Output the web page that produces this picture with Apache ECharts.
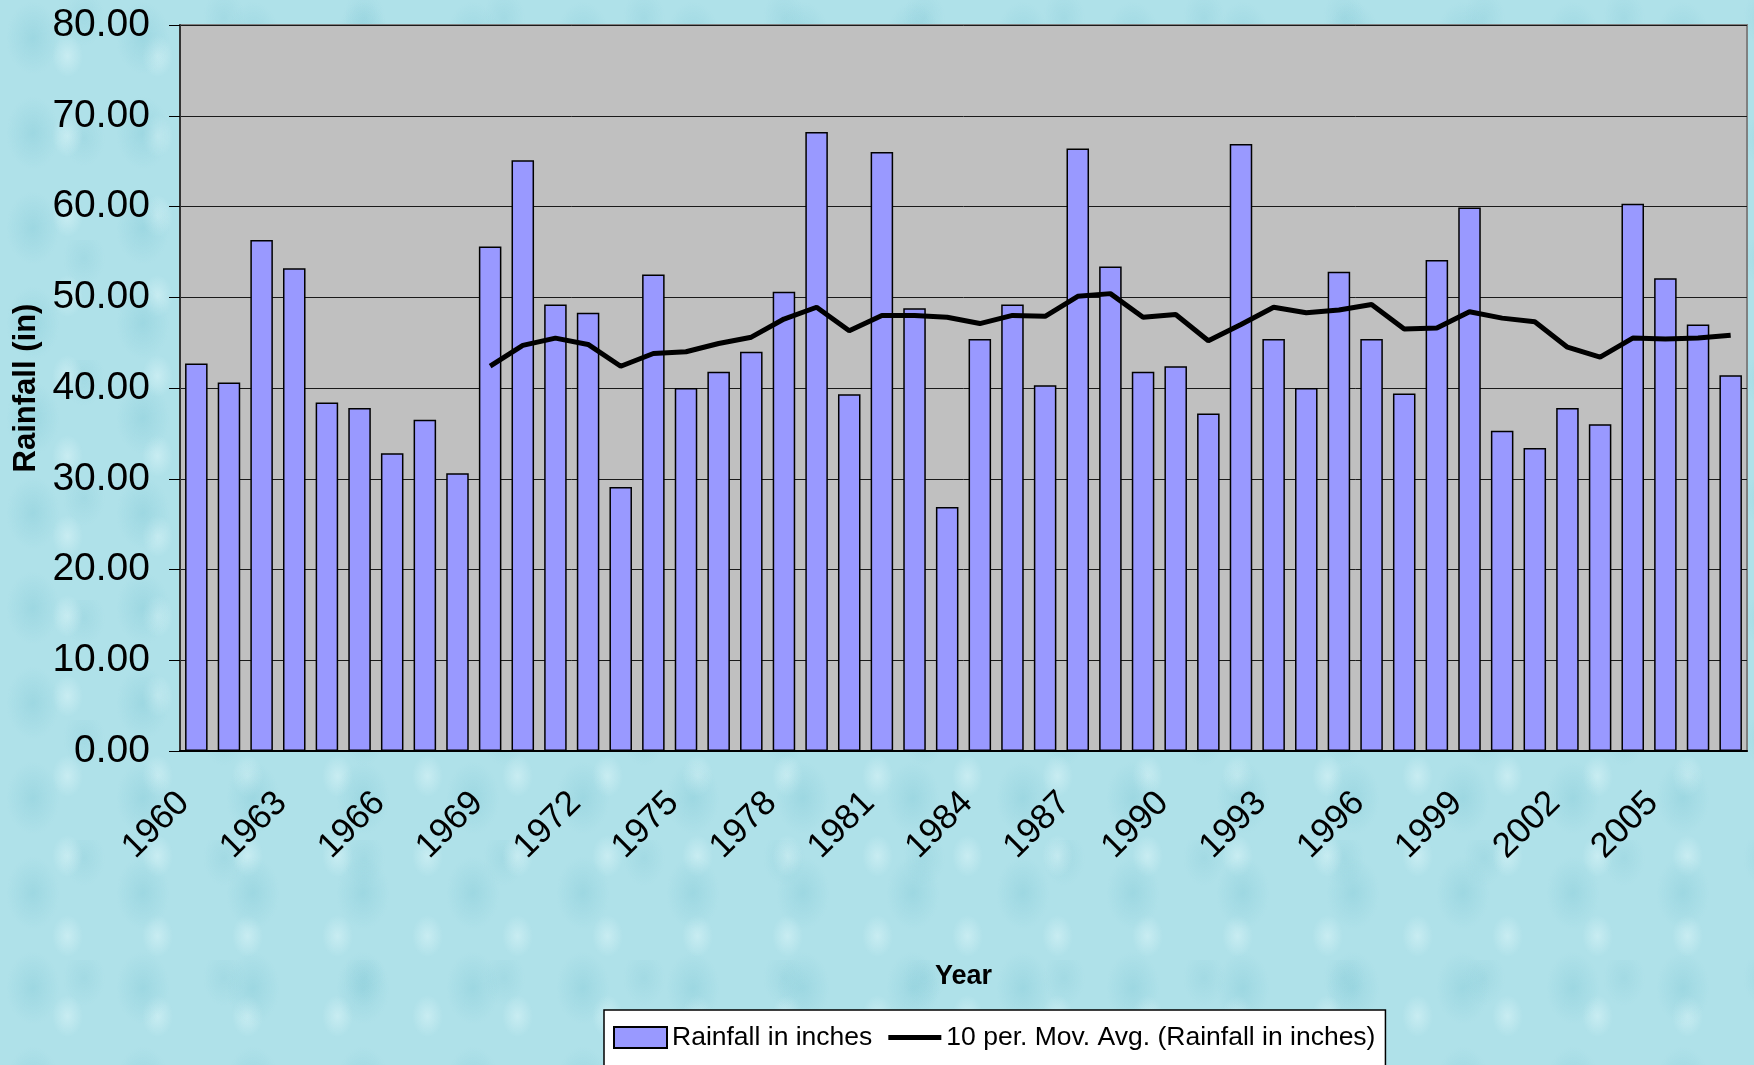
<!DOCTYPE html>
<html>
<head>
<meta charset="utf-8">
<title>Rainfall</title>
<script src="https://cdn.jsdelivr.net/npm/echarts@6/dist/echarts.min.js"></script>
<style>
  html, body {
    margin: 0;
    padding: 0;
    width: 1754px;
    height: 1065px;
    overflow: hidden;
  }
  body {
    background-color: #afe1e9;
    background-image:
      radial-gradient(ellipse 38px 52px at 30% 40%, rgba(125,198,212,0.35), rgba(125,198,212,0) 70%),
      radial-gradient(ellipse 22px 30px at 75% 70%, rgba(230,250,252,0.45), rgba(230,250,252,0) 70%),
      radial-gradient(ellipse 30px 40px at 60% 15%, rgba(135,202,215,0.3), rgba(135,202,215,0) 70%);
    background-size: 110px 95px, 90px 80px, 140px 120px;
  }
  #main1 { width: 1754px; height: 1065px; }
</style>
</head>
<body>
<div id="main1"></div>
<script>
  // data
  var years = ['1960','1961','1962','1963','1964','1965','1966','1967','1968','1969',
               '1970','1971','1972','1973','1974','1975','1976','1977','1978','1979',
               '1980','1981','1982','1983','1984','1985','1986','1987','1988','1989',
               '1990','1991','1992','1993','1994','1995','1996','1997','1998','1999',
               '2000','2001','2002','2003','2004','2005','2006','2007'];

  var rainfall = [42.7, 40.6, 56.3, 53.2, 38.4, 37.8, 32.8, 36.5, 30.6, 55.6,
                  65.1, 49.2, 48.3, 29.1, 52.5, 40.0, 41.8, 44.0, 50.6, 68.2,
                  39.3, 66.0, 48.8, 26.9, 45.4, 49.2, 40.3, 66.4, 53.4, 41.8,
                  42.4, 37.2, 66.9, 45.4, 40.0, 52.8, 45.4, 39.4, 54.1, 59.9,
                  35.3, 33.4, 37.8, 36.0, 60.3, 52.1, 47.0, 41.4];

  // 10 per. moving average line, starts at 1969
  var movAvg = [null, null, null, null, null, null, null, null, null, 42.4,
                44.7, 45.5, 44.8, 42.4, 43.8, 44.0, 44.9, 45.6, 47.6, 48.9,
                46.3, 48.0, 48.0, 47.8, 47.1, 48.0, 47.9, 50.1, 50.4, 47.8,
                48.1, 45.2, 47.0, 48.9, 48.3, 48.6, 49.2, 46.5, 46.6, 48.4,
                47.7, 47.3, 44.5, 43.4, 45.5, 45.4, 45.5, 45.8];

  var barName = 'Rainfall in inches';
  var lineName = '10 per. Mov. Avg. (Rainfall in inches)';
  var font = "'Liberation Sans', Arial, sans-serif";

  var myChart = echarts.init(document.getElementById('main1'));

  myChart.setOption({
    animation: false,
    textStyle: { fontFamily: font },
    grid: {
      left: 180,
      top: 25,
      width: 1567,
      height: 726,
      outerBoundsMode: 'none',
      containLabel: false,
      show: true,
      backgroundColor: '#C0C0C0',
      borderColor: '#808080',
      borderWidth: 2
    },
    legend: {
      left: 604,
      top: 1010,
      itemWidth: 53,
      itemHeight: 21,
      itemGap: 16,
      backgroundColor: '#ffffff',
      borderColor: '#000',
      borderWidth: 1.5,
      borderRadius: 0,
      padding: [14, 10, 22, 9],
      textStyle: { fontSize: 26.5, color: '#000', fontFamily: font },
      data: [
        { name: barName, icon: 'rect', itemStyle: { color: '#9999FF', borderColor: '#000', borderWidth: 2 } },
        { name: lineName, icon: 'path://M0,0 H53 V5 H0 Z', itemStyle: { color: '#000', borderWidth: 0 } }
      ]
    },
    xAxis: {
      type: 'category',
      data: years,
      name: 'Year',
      nameLocation: 'middle',
      nameGap: 212,
      nameTextStyle: { fontSize: 27, fontWeight: 'bold', color: '#000', fontFamily: font },
      axisLine: { lineStyle: { color: '#000', width: 2 } },
      axisTick: { interval: 0, length: 15, lineStyle: { color: '#000', width: 1 } },
      axisLabel: {
        interval: 2,
        rotate: 45,
        margin: 34,
        padding: [0, 18, 0, 0],
        fontSize: 35,
        color: '#000',
        fontFamily: font
      }
    },
    yAxis: {
      type: 'value',
      min: 0,
      max: 80,
      interval: 10,
      name: 'Rainfall (in)',
      nameLocation: 'middle',
      nameRotate: 90,
      nameGap: 138,
      nameTextStyle: { fontSize: 31, fontWeight: 'bold', color: '#000', fontFamily: font },
      axisLine: { show: true, lineStyle: { color: '#333', width: 2 } },
      axisTick: { show: true, length: 11, lineStyle: { color: '#000' } },
      axisLabel: {
        margin: 30,
        fontSize: 39,
        color: '#000',
        fontFamily: font,
        formatter: function (v) { return v.toFixed(2); }
      },
      splitLine: { lineStyle: { color: '#1a1a1a', width: 1 } }
    },
    series: [
      {
        name: barName,
        type: 'bar',
        data: rainfall,
        barCategoryGap: '31%',
        itemStyle: { color: '#9999FF', borderColor: '#000', borderWidth: 1.5 }
      },
      {
        name: lineName,
        type: 'line',
        data: movAvg,
        symbol: 'none',
        connectNulls: false,
        lineStyle: { color: '#000', width: 5 },
        itemStyle: { color: '#000' }
      }
    ]
  });
</script>
</body>
</html>
